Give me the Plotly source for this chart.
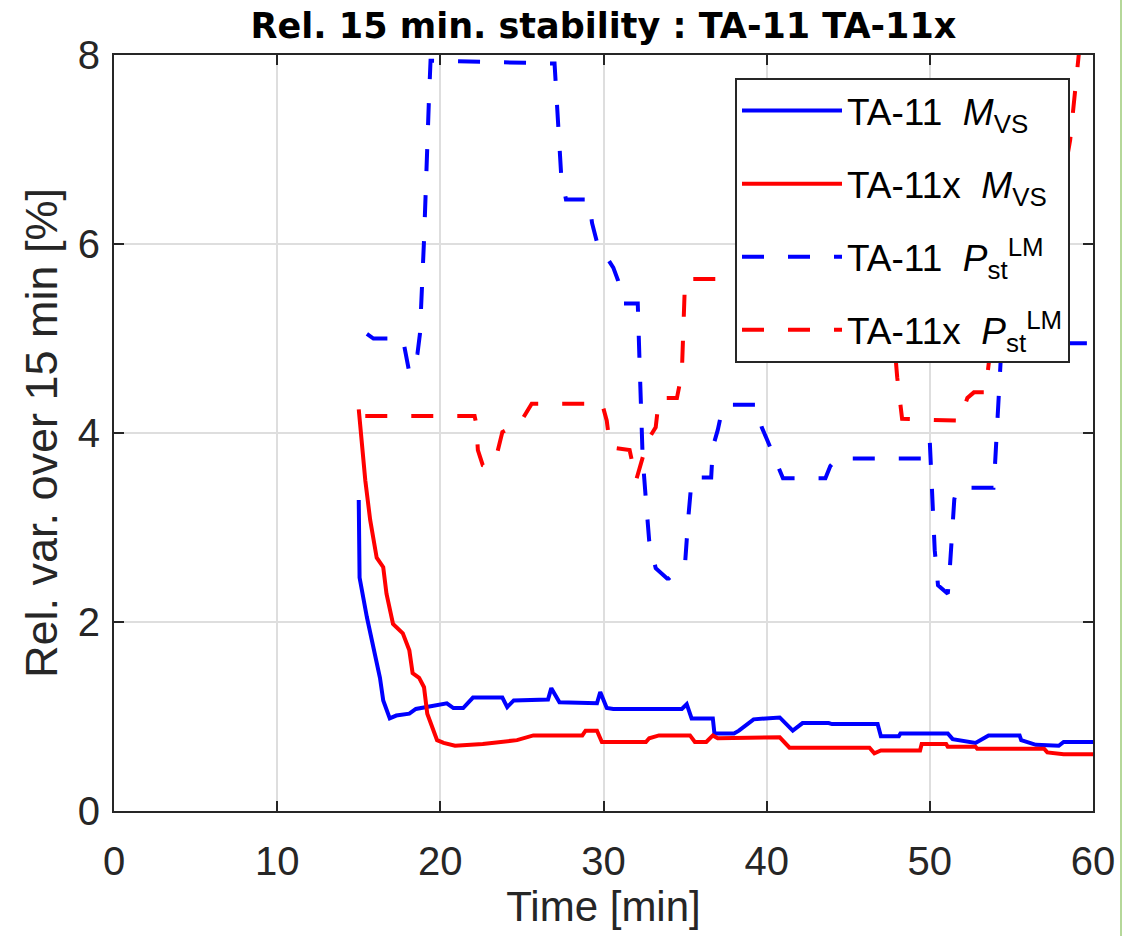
import plotly.graph_objects as go

# ---------------- data ----------------
t_ta11_m = [15.0, 15.05, 15.5, 15.8, 16.1, 16.3, 16.5, 16.9, 17.3, 18.1, 18.5, 20.4, 20.8, 21.4, 22.0,
            23.8, 24.1, 24.5, 26.6, 26.8, 27.3, 29.6, 29.8, 30.2, 30.6, 34.8, 35.1, 35.4, 36.7, 36.8,
            38.0, 38.3, 39.2, 40.8, 41.6, 42.2, 43.8, 44.0, 46.8, 47.0, 48.1, 48.2, 51.1, 51.4, 52.8,
            53.6, 55.5, 55.6, 56.5, 57.9, 58.2, 60.0]
v_ta11_m = [3.29, 2.47, 2.05, 1.8, 1.6, 1.41, 1.17, 0.98, 1.01, 1.03, 1.08, 1.14, 1.09, 1.09, 1.2,
            1.2, 1.1, 1.17, 1.18, 1.3, 1.15, 1.14, 1.26, 1.09, 1.08, 1.08, 1.13, 0.98, 0.98, 0.82,
            0.82, 0.85, 0.97, 0.99, 0.85, 0.93, 0.93, 0.92, 0.92, 0.79, 0.79, 0.82, 0.82, 0.76, 0.72,
            0.8, 0.8, 0.75, 0.7, 0.69, 0.73, 0.73]

t_ta11x_m = [15.0, 15.4, 15.7, 16.1, 16.5, 16.7, 17.1, 17.7, 18.1, 18.3, 18.7, 19.0, 19.2, 19.8, 20.2,
             20.9, 22.6, 24.7, 25.7, 28.7, 28.9, 29.6, 29.9, 32.6, 32.8, 33.4, 35.3, 35.6, 36.3, 36.7,
             37.0, 38.6, 39.2, 40.8, 41.4, 46.3, 46.6, 47.0, 49.4, 49.5, 51.0, 51.1, 52.8, 52.9, 57.0,
             57.2, 58.2, 60.0]
v_ta11x_m = [4.25, 3.5, 3.08, 2.68, 2.58, 2.3, 1.98, 1.88, 1.7, 1.46, 1.41, 1.31, 1.03, 0.75, 0.72,
             0.69, 0.71, 0.75, 0.8, 0.8, 0.85, 0.85, 0.73, 0.73, 0.77, 0.8, 0.8, 0.73, 0.73, 0.8,
             0.77, 0.77, 0.78, 0.78, 0.67, 0.67, 0.61, 0.64, 0.64, 0.71, 0.71, 0.68, 0.68, 0.66, 0.66,
             0.62, 0.6, 0.6]

t_ta11_p = [15.5, 15.9, 17.7, 17.9, 18.1, 18.4, 18.6, 18.75, 19.0, 19.3, 19.4, 27.0, 27.2, 27.4, 27.7,
            29.1, 29.3, 29.6, 30.6, 30.9, 31.2, 32.1, 32.2, 32.3, 32.4, 32.6, 32.8, 33.2, 33.9, 34.0,
            35.0, 35.2, 35.4, 35.5, 36.6, 36.7, 37.0, 37.3, 37.5, 39.4, 39.7, 40.0, 40.8, 41.0, 43.6,
            43.9, 44.3, 49.9, 50.0, 50.1, 50.3, 50.5, 51.1, 51.2, 51.5, 51.7, 53.9, 54.0, 54.4, 60.0]
v_ta11_p = [5.05, 5.0, 5.0, 4.8, 4.64, 4.7, 4.84, 5.05, 6.04, 7.52, 7.94, 7.91, 7.31, 6.75, 6.47,
            6.47, 6.22, 6.02, 5.75, 5.61, 5.37, 5.37, 4.8, 4.27, 3.74, 3.29, 2.86, 2.57, 2.46, 2.46,
            2.62, 3.11, 3.5, 3.53, 3.53, 3.85, 4.03, 4.27, 4.3, 4.3, 4.06, 3.94, 3.6, 3.52, 3.52,
            3.65, 3.73, 3.73, 3.9, 3.5, 2.76, 2.39, 2.3, 2.5, 3.3, 3.42, 3.42, 3.68, 4.95, 4.95]

t_ta11x_p = [15.4, 22.1, 22.2, 22.3, 22.6, 22.9, 23.5, 23.8, 24.9, 25.6, 29.8, 29.9, 30.2, 30.4, 31.6,
             31.9, 32.0, 32.7, 33.2, 33.4, 34.5, 34.8, 35.0, 47.5, 47.8, 48.0, 48.3, 51.8, 52.3, 52.7,
             53.4, 53.6, 54.0, 56.0, 58.0, 58.6, 59.0, 59.3, 60.0]
v_ta11x_p = [4.18, 4.18, 4.1, 3.82, 3.66, 3.64, 3.8, 4.01, 4.11, 4.31, 4.31, 4.32, 4.13, 3.85, 3.82,
             3.6, 3.5, 3.92, 4.06, 4.37, 4.37, 4.63, 5.63, 5.63, 5.0, 4.59, 4.15, 4.13, 4.37, 4.43,
             4.43, 4.75, 5.3, 5.9, 6.5, 7.1, 7.78, 8.3, 8.5]

x_ticks = [0, 10, 20, 30, 40, 50, 60]
y_ticks = [0, 2, 4, 6, 8]

names = ["TA-11&nbsp; <i>M</i><sub>VS</sub>",
         "TA-11x&nbsp; <i>M</i><sub>VS</sub>",
         "TA-11&nbsp; <i>P</i><sub>st</sub><sup>LM</sup>",
         "TA-11x&nbsp; <i>P</i><sub>st</sub><sup>LM</sup>"]

BLUE = "#0000ff"
RED = "#ff0000"
AX = "#262626"
FONT = "Liberation Sans, Arial, sans-serif"

fig = go.Figure()
series = [
    (t_ta11_m, v_ta11_m, BLUE, "solid"),
    (t_ta11x_m, v_ta11x_m, RED, "solid"),
    (t_ta11_p, v_ta11_p, BLUE, "22px,24px"),
    (t_ta11x_p, v_ta11x_p, RED, "22px,24px"),
]
for i, (t, v, c, d) in enumerate(series):
    fig.add_trace(go.Scatter(x=t, y=v, mode="lines", name=names[i],
                             legendgroup=f"g{i}",
                             line=dict(color=c, width=4, dash=d)))

axis_common = dict(
    showline=True, linecolor=AX, linewidth=2, mirror="ticks",
    ticks="inside", ticklen=10, tickwidth=2, tickcolor=AX,
    showgrid=True, gridcolor="#dedede", gridwidth=1.5, zeroline=False,
    tickfont=dict(family=FONT, size=40, color=AX),
)

fig.update_layout(
    width=1137, height=936,
    margin=dict(l=114, r=44, t=55, b=125, autoexpand=False),
    paper_bgcolor="white", plot_bgcolor="white",
    title=dict(text="Rel. 15 min. stability : TA-11 TA-11x",
               font=dict(family="DejaVu Sans", size=35, color="black", weight="bold"),
               x=(114 + 1093) / 2 / 1137, xanchor="center",
               y=1 - 26 / 936, yanchor="middle", yref="container"),
    xaxis=dict(range=[0, 60], tickvals=x_ticks, ticktext=[str(v) for v in x_ticks],
               ticklabelstandoff=14,
               title=dict(text="Time [min]", font=dict(family=FONT, size=42, color=AX), standoff=10),
               **axis_common),
    yaxis=dict(range=[0, 8], tickvals=y_ticks, ticktext=[str(v) for v in y_ticks],
               ticklabelstandoff=4,
               title=dict(text="Rel. var. over 15 min [%]", font=dict(family=FONT, size=45, color=AX),
                          standoff=6),
               **axis_common),
    legend=dict(x=(1070 - 114) / 979, xanchor="right", y=(811 - 78) / 756, yanchor="top",
                bgcolor="white", bordercolor=AX, borderwidth=2,
                font=dict(family=FONT, size=37, color="black"),
                tracegroupgap=22, itemwidth=100),
    showlegend=True,
    shapes=[dict(type="line", xref="paper", yref="paper",
                 x0=(1121 - 114) / 979, x1=(1121 - 114) / 979,
                 y0=(811 - 936) / 756, y1=811 / 756,
                 line=dict(color="#b5d89a", width=2))],
)

fig.write_html("out.html")
